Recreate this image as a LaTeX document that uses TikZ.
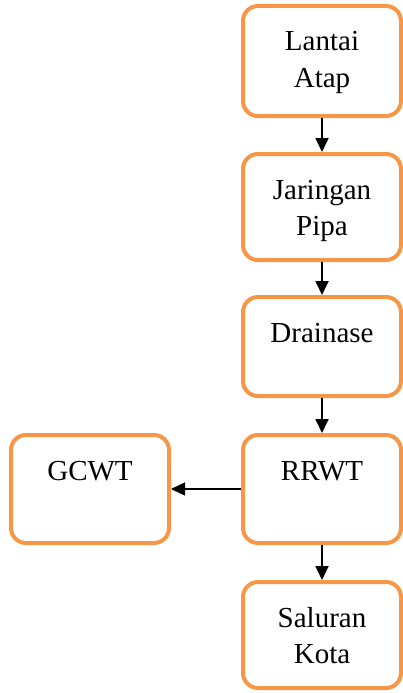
\documentclass[tikz,border=0pt]{standalone}
\usepackage{fontspec}
\setmainfont{Liberation Serif}
\usepackage{xcolor}
\usepackage{tikz}
\usetikzlibrary{arrows.meta, positioning}
\definecolor{boxorange}{HTML}{F79646}
\tikzset{
  flowbox/.style={rectangle, draw=boxorange, fill=white, rounded corners=15pt,
                  line width=4pt, text width=158pt, align=center, inner xsep=0pt,
                  inner ysep=0pt, text height=45pt, text depth=62pt, anchor=north,
                  font=\fontsize{29}{36}\selectfont},
  arrow/.style={-{Triangle[length=14pt, width=13pt]}, draw=black, line width=1.8pt},
}

\begin{document}
\begin{tikzpicture}[x=1pt, y=-1pt,
  harrow/.style={arrow, line width=1.2pt}
]
  \useasboundingbox (0,0) rectangle (403,693);

  \node[flowbox, text depth=65pt] (lantai) at (322,4) {Lantai\\Atap};
  \node[flowbox, text depth=61pt] (pipa) at (322,152) {Jaringan\\Pipa};
  \node[flowbox, text depth=54pt] (drainase) at (322,295) {Drainase};
  \node[flowbox, text depth=63pt] (rrwt) at (322,433) {RRWT};
  \node[flowbox, text depth=63pt] (gcwt) at (90,433) {GCWT};
  \node[flowbox, text depth=61pt] (saluran) at (322,580) {Saluran\\Kota};

  \draw[arrow] (lantai) -- (pipa);
  \draw[arrow] (pipa) -- (drainase);
  \draw[arrow] (drainase) -- (rrwt);
  \draw[harrow] (rrwt) -- (gcwt);
  \draw[arrow] (rrwt) -- (saluran);
\end{tikzpicture}
\end{document}
